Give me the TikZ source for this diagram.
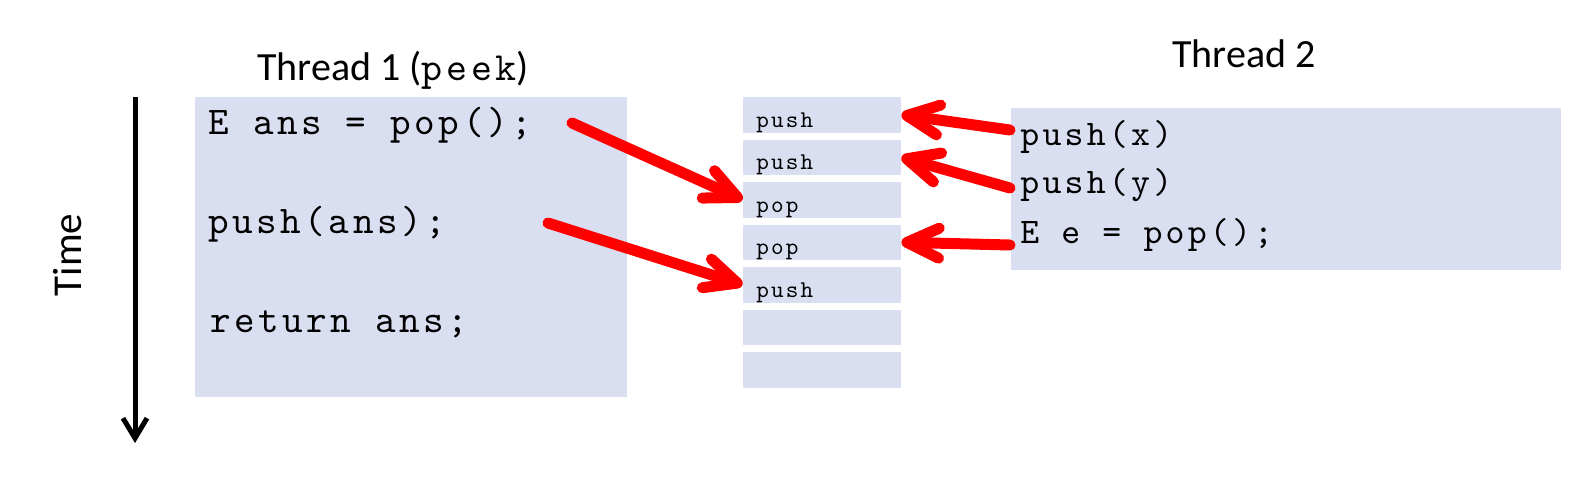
\documentclass[tikz,border=0pt]{standalone}
\usepackage{fontspec}
\setmainfont{Carlito}
\newfontfamily\codefont{lmmono10-regular.otf}[LetterSpace=9]
\usetikzlibrary{arrows.meta}
\definecolor{boxfill}{HTML}{D9DEF0}
\definecolor{arrred}{HTML}{FF0000}
\newcommand{\mycode}[1]{\codefont\fontsize{#1}{24pt}\selectfont}
\begin{document}
\begin{tikzpicture}[x=0.5pt,y=-0.5pt,
  box/.style={fill=boxfill, draw=none, inner sep=0pt, anchor=north west},
  slot/.style={fill=boxfill, draw=none, inner sep=0pt, minimum width=79pt, minimum height=17.75pt},
  codeA/.style={font=\mycode{19.6pt}, anchor=base west, inner sep=0pt},
  codeB/.style={font=\mycode{18pt}, anchor=base west, inner sep=0pt},
  slottext/.style={font=\mycode{12pt}, anchor=base west, inner sep=0pt},
  title/.style={font=\fontsize{20pt}{24pt}\selectfont, anchor=base west, inner sep=0pt},
  redarrow/.style={draw=arrred, line width=5.5pt, line cap=round, -{Straight Barb[length=16pt,width=15pt,round]}},
  timearrow/.style={draw=black, line width=2.5pt, -{Straight Barb[length=10pt,width=12pt]}}
]
\useasboundingbox (0,0) rectangle (1594,478);

% boxes
\node[box, minimum width=216pt, minimum height=150pt] (t1) at (195,97) {};
\node[box, minimum width=275pt, minimum height=81pt] (t2) at (1011,108) {};

% titles
\node[title] (title1) at (257,80) {Thread 1 ({\mycode{20pt}peek})};
\node[title] (title2) at (1172,67) {Thread 2};

% time
\node[font=\fontsize{20.5pt}{24pt}\selectfont, rotate=90, inner sep=0pt] (time) at (68,255) {Time};
\coordinate (tstart) at (135,97);
\coordinate (tend) at (135,443);
\draw[timearrow] (tstart) -- (tend);

% thread 1 code
\node[codeA] (a1) at (208,134) {E ans = pop();};
\node[codeA] (a2) at (208,233) {push(ans);};
\node[codeA] (a3) at (210,332) {return ans;};

% thread 2 code
\node[codeB] (b1) at (1020,145) {push(x)};
\node[codeB] (b2) at (1020,193) {push(y)};
\node[codeB] (b3) at (1020,243) {E e = pop();};

% slots
\foreach \i in {1,...,7} {
  \node[slot] (s\i) at (822,{114.75+(\i-1)*42.5}) {};
}
\node[slottext] (l1) at (756,{127+0*42.5}) {push};
\node[slottext] (l2) at (756,{127+1*42.5}) {push};
\node[slottext] (l3) at (756,{127+2*42.5}) {pop};
\node[slottext] (l4) at (756,{127+3*42.5}) {pop};
\node[slottext] (l5) at (756,{127+4*42.5}) {push};

% arrows
\coordinate (p1) at (572,123);
\coordinate (p2) at (548,223);
\coordinate (q1) at (1010,130);
\coordinate (q2) at (1010,188);
\coordinate (q3) at (1010,245);
\draw[redarrow] (p1) -- (s3.west);
\draw[redarrow] (p2) -- (s5.west);
\draw[redarrow] (q1) -- (s1.east);
\draw[redarrow] (q2) -- (s2.east);
\draw[redarrow] (q3) -- (s4.east);
\end{tikzpicture}
\end{document}
